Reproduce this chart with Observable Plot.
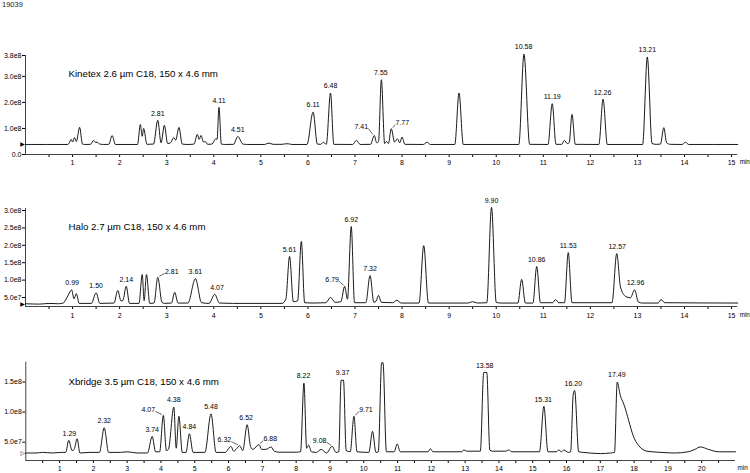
<!DOCTYPE html>
<html>
<head>
<meta charset="utf-8">
<script src="https://cdn.jsdelivr.net/npm/d3@7"></script>
<script src="https://cdn.jsdelivr.net/npm/@observablehq/plot@0.6"></script>
<style>
  html, body { margin: 0; padding: 0; background: #fff; }
  #root { position: relative; width: 750px; height: 473px; overflow: hidden; background: #fff; font-family: "Liberation Sans", Arial, sans-serif; }
  #runid { position: absolute; left: 2px; top: 0px; font-size: 7.5px; color: #222; }
</style>
</head>
<body>
<div id="root"><div id="runid">19039</div></div>
<script>
// ---------- data (time in min, signal in units of 1e8) ----------
const panelTitles = [
  "Kinetex 2.6 µm C18, 150 x 4.6 mm",
  "Halo 2.7 µm C18, 150 x 4.6 mm",
  "Xbridge 3.5 µm C18, 150 x 4.6 mm"
];

const kinetexTrace = [
  [0,0.385],[0.9,0.385],[0.93,0.45],[0.97,0.58],[1.0,0.48],[1.04,0.65],[1.08,0.5],[1.15,1.04],[1.21,0.4],[1.26,0.385],
  [1.38,0.39],[1.45,0.54],[1.49,0.46],[1.52,0.47],[1.58,0.40],[1.66,0.385],[1.77,0.39],[1.84,0.73],[1.91,0.385],
  [2.38,0.385],[2.44,1.15],[2.48,0.7],[2.51,1.0],[2.58,0.39],[2.72,0.40],[2.81,1.31],[2.88,0.45],[2.95,1.12],[3.02,0.42],
  [3.08,0.45],[3.15,0.65],[3.19,0.55],[3.26,1.04],[3.33,0.4],[3.45,0.385],[3.58,0.40],[3.65,0.77],[3.69,0.58],[3.73,0.73],
  [3.78,0.48],[3.82,0.5],[3.87,0.39],[3.96,0.4],[4.04,0.6],[4.07,0.58],[4.11,1.81],[4.16,0.4],[4.25,0.385],[4.42,0.39],
  [4.51,0.69],[4.62,0.4],[4.72,0.385],[5.08,0.385],[5.17,0.44],[5.26,0.39],[5.45,0.39],[5.52,0.41],[5.59,0.41],[5.66,0.385],
  [5.98,0.385],[6.11,1.63],[6.2,0.4],[6.27,0.39],[6.33,0.47],[6.39,0.39],[6.48,2.36],[6.55,0.39],[6.95,0.385],[7.03,0.54],
  [7.11,0.385],[7.33,0.39],[7.41,0.73],[7.46,0.45],[7.5,0.5],[7.56,2.87],[7.63,0.42],[7.67,0.5],[7.71,0.42],[7.77,0.99],
  [7.84,0.48],[7.9,0.6],[7.95,0.45],[8.0,0.67],[8.06,0.39],[8.45,0.385],[8.53,0.47],[8.6,0.385],[9.12,0.385],[9.21,2.36],
  [9.3,0.385],[10.48,0.385],[10.59,3.85],[10.71,0.39],[11.1,0.385],[11.19,1.95],[11.27,0.39],[11.39,0.39],[11.45,0.54],
  [11.51,0.42],[11.55,0.45],[11.61,1.54],[11.68,0.39],[12.18,0.385],[12.27,2.12],[12.36,0.385],[13.11,0.385],[13.21,3.74],
  [13.31,0.42],[13.4,0.39],[13.49,0.4],[13.56,1.03],[13.62,0.45],[13.7,0.39],[13.95,0.385],[14.02,0.47],[14.09,0.385],[15.13,0.385]
];

const haloTrace = [
  [0,0.32],[0.3,0.31],[0.5,0.33],[0.7,0.32],[0.8,0.34],[0.9,0.55],[0.98,0.72],[1.03,0.46],[1.08,0.61],[1.14,0.33],
  [1.4,0.33],[1.5,0.635],[1.58,0.33],[1.88,0.34],[1.96,0.70],[2.03,0.40],[2.07,0.42],[2.14,0.82],[2.21,0.33],[2.41,0.33],
  [2.48,1.16],[2.52,0.41],[2.57,1.16],[2.64,0.33],[2.73,0.34],[2.81,1.08],[2.9,0.36],[2.96,0.33],[3.1,0.34],[3.17,0.65],
  [3.24,0.34],[3.45,0.34],[3.61,1.04],[3.74,0.35],[3.9,0.33],[4.02,0.59],[4.12,0.34],[4.4,0.33],[5.45,0.33],[5.53,0.45],
  [5.61,1.68],[5.69,0.38],[5.78,0.4],[5.86,2.11],[5.93,0.35],[6.1,0.34],[6.38,0.35],[6.48,0.50],[6.58,0.36],[6.7,0.38],
  [6.78,0.82],[6.84,0.45],[6.92,2.54],[6.99,0.35],[7.23,0.35],[7.32,1.13],[7.4,0.36],[7.45,0.4],[7.5,0.56],[7.56,0.36],
  [7.8,0.35],[7.89,0.42],[7.98,0.34],[8.36,0.34],[8.46,1.99],[8.56,0.34],[9.4,0.34],[9.5,0.38],[9.6,0.34],[9.8,0.35],
  [9.9,3.09],[10.0,0.36],[10.1,0.34],[10.46,0.34],[10.54,1.02],[10.62,0.34],[10.78,0.34],[10.86,1.39],[10.94,0.35],
  [11.2,0.35],[11.26,0.44],[11.33,0.35],[11.45,0.35],[11.53,1.79],[11.61,0.35],[12.46,0.35],[12.56,1.76],[12.64,0.80],
  [12.75,0.53],[12.85,0.49],[12.94,0.72],[13.02,0.37],[13.1,0.34],[13.44,0.34],[13.5,0.44],[13.58,0.35],[15.13,0.34]
];

const xbridgeTrace = [
  [0,0.32],[0.3,0.32],[0.5,0.33],[0.8,0.32],[1.05,0.33],[1.18,0.33],[1.27,0.53],[1.37,0.36],[1.43,0.38],[1.52,0.556],
  [1.6,0.32],[1.9,0.33],[2.18,0.33],[2.32,0.74],[2.45,0.33],[2.8,0.33],[3.0,0.34],[3.3,0.32],[3.6,0.32],[3.74,0.595],
  [3.84,0.34],[3.96,0.34],[4.07,0.945],[4.16,0.36],[4.22,0.38],[4.38,1.083],[4.45,0.4],[4.53,0.93],[4.63,0.33],[4.74,0.33],
  [4.84,0.64],[4.95,0.33],[5.3,0.33],[5.48,0.97],[5.63,0.33],[5.9,0.33],[6.07,0.43],[6.15,0.35],[6.22,0.38],[6.33,0.44],
  [6.42,0.36],[6.55,0.79],[6.65,0.43],[6.72,0.38],[6.9,0.46],[6.98,0.38],[7.1,0.38],[7.26,0.42],[7.35,0.35],[7.5,0.333],
  [8.0,0.333],[8.13,0.34],[8.23,1.48],[8.31,0.4],[8.37,0.45],[8.45,0.34],[8.6,0.33],[8.74,0.38],[8.9,0.32],[9.06,0.43],
  [9.18,0.33],[9.26,0.34],[9.33,1.53],[9.4,1.53],[9.48,0.36],[9.6,0.34],[9.71,0.93],[9.8,0.34],[10.15,0.33],[10.26,0.68],
  [10.36,0.33],[10.43,0.34],[10.53,1.82],[10.57,1.82],[10.67,0.34],[10.9,0.34],[10.99,0.47],[11.08,0.34],[11.9,0.34],
  [11.97,0.39],[12.05,0.34],[12.9,0.34],[12.96,0.37],[13.05,0.35],[13.45,0.35],[13.55,1.66],[13.64,1.66],[13.73,0.37],
  [13.8,0.35],[14.2,0.35],[14.29,0.37],[14.38,0.34],[15.2,0.34],[15.33,1.095],[15.45,0.34],[15.7,0.34],[15.77,0.37],
  [15.85,0.34],[15.92,0.37],[16.05,0.33],[16.12,0.34],[16.2,1.3],[16.24,1.36],[16.36,0.34],[16.5,0.33],[17.0,0.31],
  [17.3,0.32],[17.42,0.33],[17.5,1.50],[17.59,1.28],[17.71,1.11],[17.84,0.86],[17.97,0.61],[18.14,0.44],[18.38,0.35],
  [18.8,0.33],[19.2,0.32],[19.6,0.34],[19.8,0.38],[19.96,0.42],[20.2,0.38],[20.5,0.34],[21.0,0.34]
];

const kinetexLabels = ["2.81","4.11","4.51","6.11","6.48","7.41","7.55","7.77","10.58","11.19","12.26","13.21"];
const haloLabels = ["0.99","1.50","2.14","2.81","3.61","4.07","5.61","6.79","6.92","7.32","9.90","10.86","11.53","12.57","12.96"];
const xbridgeLabels = ["1.29","2.32","3.74","4.07","4.38","4.84","5.48","6.32","6.52","6.88","8.22","9.08","9.37","9.71","13.58","15.31","16.20","17.49"];

const yTicksKinetex = [0, 1, 2, 3, 3.8];
const yTicksHalo = [0.5, 1, 1.5, 2, 2.5, 3];
const yTicksXbridge = [0.5, 1, 1.5];
const xTicks15 = d3.range(1, 31).map(i => i / 2);
const xTicks21 = d3.range(1, 42).map(i => i / 2);

// ---------- layout (pixel offsets for labels with leader lines) ----------
const leaderKinetex = {"7.41": [-13, -9], "7.77": [11, -6]};
const leaderHalo = {"2.81": [14, -6], "6.79": [-13, -7]};
const leaderXbridge = {"4.07": [-15, -6], "6.32": [-15, -6], "6.88": [12, -6], "9.08": [-13, -6], "9.71": [12, -7]};

const fmt = v => v === 0 ? "0.0" : (v < 1 ? (v * 10).toFixed(1) + "e7" : v.toFixed(1) + "e8");

function apex(trace, T) {
  let best = -Infinity;
  for (const [t, v] of trace) if (Math.abs(t - T) <= 0.061 && v > best) best = v;
  return best;
}

function panel(c) {
  const W = 750;
  const xpp = (c.xDomain[1] - c.xDomain[0]) / (W - c.ml - c.mr);
  const ypp = (c.yDomain[1] - c.yDomain[0]) / (c.height - c.mt - c.mb);
  const lab = c.labels.map(s => {
    const T = +s, v = apex(c.trace, T);
    const [dx, dy] = c.offsets[s] || [0, -7];
    return {s, T, v, dx, lx: T + dx * xpp, ly: v - dy * ypp};
  });
  const leaders = lab.filter(d => c.offsets[d.s]).map(d => {
    const sx = Math.sign(d.dx);
    return {x1: d.T + sx * 1.5 * xpp, y1: d.v + 1 * ypp, x2: d.lx - sx * 7 * xpp, y2: d.ly - 2 * ypp};
  });
  const svg = Plot.plot({
    width: W, height: c.height,
    marginTop: c.mt, marginBottom: c.mb, marginLeft: c.ml, marginRight: c.mr,
    style: {fontFamily: "'Liberation Sans', Arial, sans-serif", fontSize: "7px", color: "#000", background: "transparent", overflow: "visible"},
    x: {domain: c.xDomain, ticks: c.xTicks, tickFormat: d => Number.isInteger(d) ? String(d) : "", tickSize: 3, tickPadding: c.tp, label: null},
    y: {domain: c.yDomain, ticks: c.yTicks, tickFormat: fmt, tickSize: 3, tickPadding: 1, label: null},
    marks: [
      Plot.ruleY([c.yDomain[0]], {stroke: "#444"}),
      Plot.ruleX([c.xDomain[0]], {stroke: "#444"}),
      Plot.line(c.trace, {x: d => d[0], y: d => d[1], curve: "monotone-x", stroke: "#000", strokeWidth: 0.9}),
      Plot.link(leaders, {x1: "x1", y1: "y1", x2: "x2", y2: "y2", stroke: "#000", strokeWidth: 0.6}),
      Plot.text(lab, {x: "lx", y: "ly", text: "s", fontSize: 7, fill: "#000"}),
      Plot.text([c.title], {text: d => d, frameAnchor: "top-left", dx: c.titleDx, dy: c.titleDy, textAnchor: "start", fontSize: 9.7, fill: "#000"}),
      Plot.text(["min"], {text: d => d, frameAnchor: "bottom-right", dx: 750 - c.mr - 1 > 737 ? 1 : 2, dy: c.tp + 6, textAnchor: "start", fontSize: 6.3}),
      Plot.text([c.trace[0]], {x: d => d[0], y: d => d[1], text: () => c.marker, dx: -3, fontSize: 6, fontFamily: "DejaVu Sans"})
    ]
  });
  svg.style.position = "absolute";
  svg.style.left = "0px";
  svg.style.top = c.top + "px";
  document.getElementById("root").appendChild(svg);
}

panel({top: 0, height: 175, mt: 55, mb: 21, ml: 25, mr: 12.8, tp: 3,
  xDomain: [0, 15.13], yDomain: [0, 3.8], xTicks: xTicks15, yTicks: yTicksKinetex,
  trace: kinetexTrace, labels: kinetexLabels, offsets: leaderKinetex,
  title: panelTitles[0], titleDx: 43, titleDy: 15, marker: "▶"});

panel({top: 175, height: 150, mt: 33, mb: 19, ml: 25, mr: 12.8, tp: 4,
  xDomain: [0, 15.13], yDomain: [0.241, 3.058], xTicks: xTicks15, yTicks: yTicksHalo,
  trace: haloTrace, labels: haloLabels, offsets: leaderHalo,
  title: panelTitles[1], titleDx: 43, titleDy: 15, marker: "▶"});

panel({top: 325, height: 148, mt: 36.7, mb: 13, ml: 25.3, mr: 15, tp: 3,
  xDomain: [0, 21.0], yDomain: [0.195, 1.83], xTicks: xTicks21, yTicks: yTicksXbridge,
  trace: xbridgeTrace, labels: xbridgeLabels, offsets: leaderXbridge,
  title: panelTitles[2], titleDx: 42.7, titleDy: 16.3, marker: "▷"});
</script>
</body>
</html>
